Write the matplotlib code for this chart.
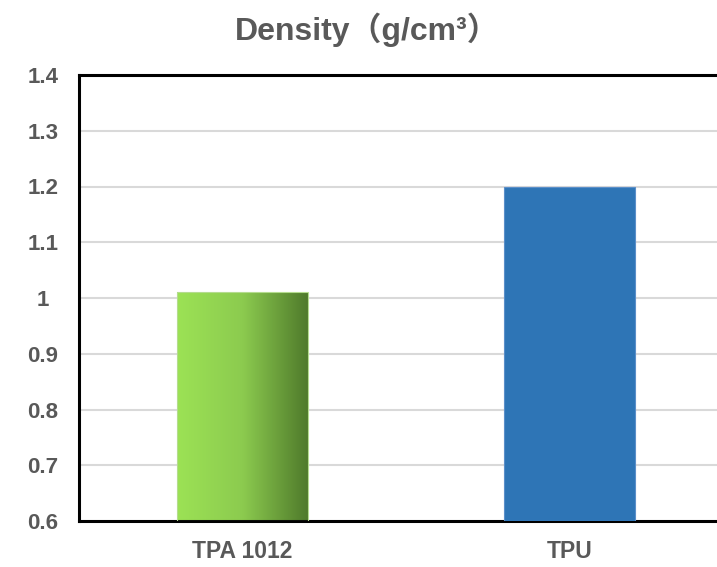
import numpy as np
import matplotlib.pyplot as plt
from matplotlib.colors import LinearSegmentedColormap

# data
categories = ['TPA 1012', 'TPU']
density = [1.01, 1.20]
yticks = [0.6, 0.7, 0.8, 0.9, 1.0, 1.1, 1.2, 1.3, 1.4]
ytick_labels = ['0.6', '0.7', '0.8', '0.9', '1', '1.1', '1.2', '1.3', '1.4']
y_base = 0.6

label_font = ['Liberation Sans', 'DejaVu Sans']
gray = '#595959'
tick_style = dict(family=label_font, fontweight='bold', fontsize=16, color=gray)

fig = plt.figure(figsize=(7.17, 5.67), dpi=100)
# the right side of the plot area is cut off in the original
ax = fig.add_axes([79/717, 1-521/567, 654/717, 446/567])

x = np.arange(len(categories))
heights = np.array(density) - y_base
bars = ax.bar(x, heights, width=0.4, bottom=y_base, color=['none', '#2e75b6'],
              edgecolor=['#b5dc8f', '#5b8fc9'], linewidth=0.8, zorder=3)

# green gradient fill for the first bar
green = LinearSegmentedColormap.from_list('g', ['#9ce255', '#8ccb4f', '#4f7a2b'])
b = bars[0]
grad = np.linspace(0, 1, 256).reshape(1, -1)
im = ax.imshow(grad, cmap=green, aspect='auto', zorder=2,
               extent=[b.get_x(), b.get_x() + b.get_width(), y_base, y_base + b.get_height()])
im.set_clip_path(b)

ax.set_xlim(-0.5, 1.5)
ax.set_ylim(0.6, 1.4)
ax.tick_params(axis='y', length=0, pad=26)
ax.tick_params(axis='x', length=0, pad=14)
ax.set_yticks(yticks)
ax.set_yticklabels(ytick_labels, ha='center', **tick_style)
ax.set_xticks(x)
ax.set_xticklabels(categories, **dict(tick_style, fontsize=16.5))

ax.grid(axis='y', color='#d9d9d9', linewidth=1.5, zorder=0)
ax.set_axisbelow(True)
for s in ['left', 'bottom', 'top']:
    ax.spines[s].set_linewidth(2.2)
    ax.spines[s].set_color('black')
ax.spines['right'].set_visible(False)

fig.text(367/717, 1-30/567, 'Density（g/cm³）', ha='center', va='center',
         fontsize=23, fontweight='bold', color=gray,
         family=['Liberation Sans', 'Noto Sans CJK SC', 'DejaVu Sans'])

fig.savefig('out.png', dpi=100)
